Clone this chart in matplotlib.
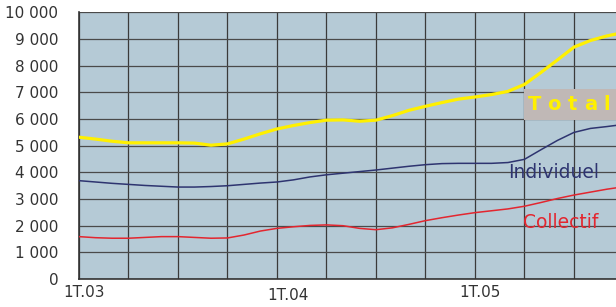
"""
Logements commencés : Total / Individuel / Collectif (1T.03 -> 2006).
"""

import matplotlib.pyplot as plt
import matplotlib.patches as patches
import matplotlib.transforms as mtransforms
import numpy as np

# monthly readings, month 0 = 1T.03
months = np.arange(34)

total = [5320, 5250, 5170, 5110, 5110, 5110, 5110, 5100, 5020, 5070,
         5250, 5450, 5630, 5760, 5870, 5960, 5970, 5920, 5960, 6130,
         6330, 6480, 6620, 6750, 6830, 6920, 7040, 7300, 7750, 8220,
         8700, 8950, 9120, 9250]

individuel = [3690, 3640, 3590, 3550, 3510, 3480, 3450, 3450, 3470, 3500,
              3550, 3600, 3640, 3720, 3830, 3910, 3970, 4030, 4090, 4160,
              4230, 4290, 4330, 4340, 4340, 4340, 4370, 4490, 4850, 5200,
              5500, 5650, 5720, 5800]

collectif = [1590, 1550, 1530, 1530, 1560, 1590, 1590, 1560, 1530, 1540,
             1650, 1800, 1900, 1960, 2010, 2030, 2000, 1900, 1850, 1920,
             2050, 2190, 2300, 2400, 2490, 2560, 2630, 2730, 2870, 3020,
             3150, 3260, 3370, 3460]

xtick_months = [0, 12, 24]
xtick_labels = ['1T.03', '1T.04', '1T.05']
ytick_values = np.arange(0, 10001, 1000)

fig = plt.figure(figsize=(6.16, 3.07), dpi=100)
ax = fig.add_axes([79 / 616, 28 / 307, 537 / 616, 266.5 / 307])
ax.set_facecolor('#b5cad6')

ax.plot(months, total, color='#fff000', lw=2.3, zorder=3)
ax.plot(months, individuel, color='#2e3470', lw=1.1, zorder=3)
ax.plot(months, collectif, color='#e3262f', lw=1.1, zorder=3)

ax.set_xlim(0, 32.55)
ax.set_ylim(0, 10000)

# quarterly vertical grid + 1000 horizontal grid
for q in range(0, 33, 3):
    ax.axvline(q, color='#3a3a3a', lw=0.9, zorder=1)
for v in ytick_values:
    ax.axhline(v, color='#4a4a4a', lw=0.9, zorder=1)

ax.set_yticks(ytick_values)
ax.set_yticklabels([f'{v:,}'.replace(',', ' ') for v in ytick_values])
ax.set_xticks(xtick_months)
ax.set_xticklabels(xtick_labels)
ax.tick_params(axis='both', length=0, labelsize=11, colors='#333333')
ax.tick_params(axis='y', pad=15)
ax.tick_params(axis='x', pad=4)
# labels in the original sit a bit right of their gridline (1T.04 also lower)
for lbl, (dx, dy) in zip(ax.get_xticklabels(), [(5, 0), (11, -3), (5, 0)]):
    off = mtransforms.ScaledTranslation(dx / 100, dy / 100, fig.dpi_scale_trans)
    lbl.set_transform(lbl.get_transform() + off)

for side in ['top', 'right']:
    ax.spines[side].set_visible(False)
for side in ['left', 'bottom']:
    ax.spines[side].set_color('#333333')
    ax.spines[side].set_linewidth(1.2)

# "Total" label on its grey box, letters spread out
ax.add_patch(patches.Rectangle((26.95, 5970), 6, 1160, facecolor='#c0b8b6',
                               edgecolor='none', zorder=4))
for ch, xm in zip('Total', [27.64, 28.79, 29.88, 31.03, 31.97]):
    ax.text(xm, 6540, ch, color='#fff000', fontsize=14, fontweight='bold',
            ha='center', va='center', zorder=5)

ax.text(26.0, 3990, 'Individuel', color='#2e3470', fontsize=13.5, va='center', ha='left')
ax.text(26.9, 2110, 'Collectif', color='#e3262f', fontsize=13.5, va='center', ha='left')

fig.savefig('out.png', dpi=100, facecolor='white')
